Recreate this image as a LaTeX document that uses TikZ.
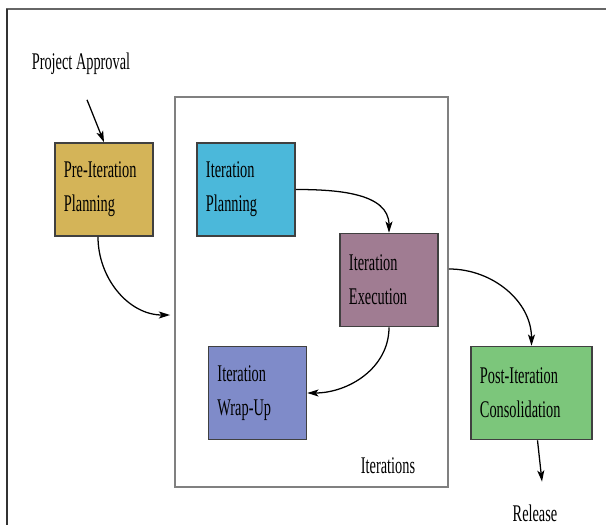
\documentclass[tikz,border=0pt]{standalone}
\usepackage{fontspec}
\setmainfont{Liberation Serif}[FakeStretch=0.6]
\usetikzlibrary{arrows.meta}

\definecolor{preplan}{RGB}{212,180,88}
\definecolor{iterplan}{RGB}{75,184,218}
\definecolor{iterexec}{RGB}{160,124,146}
\definecolor{iterwrap}{RGB}{127,139,201}
\definecolor{postcons}{RGB}{124,198,123}

\begin{document}
\begin{tikzpicture}[x=0.025cm, y=-0.025cm,
	phase/.style={draw=black!75, line width=1.1pt, minimum height=2.325cm,
		text width=2cm, inner xsep=0.225cm, align=left,
		font=\fontsize{17}{24}\selectfont},
	flow/.style={-{Stealth[length=8pt,width=5pt,inset=2pt]}, line width=0.9pt},
	schrift/.style={font=\fontsize{17}{24}\selectfont}]
	\useasboundingbox (0,0) rectangle (606,525);
	% Rahmen
	\draw[gray!80!black, line width=2pt] (6,9) -- (606,9);
	\draw[black!80, line width=0.8pt] (7,9) -- (7,525);

	% Iterationen
	\node[draw=gray, line width=1.3pt, minimum width=6.825cm,
	minimum height=9.75cm] (iter) at (311.5,292) {};
	\node[schrift] (iterlabel) at (388,466) {Iterations};

	% Phasen
	\node[schrift] (approval) at (81,64) {Project Approval};
	\node[phase, fill=preplan] (pre) at (104,189.5) {Pre-Iteration\\Planning};
	\node[phase, fill=iterplan] (plan) at (246,189.5) {Iteration\\Planning};
	\node[phase, fill=iterexec] (exec) at (389,280) {Iteration\\Execution};
	\node[phase, fill=iterwrap] (wrap) at (257.5,393) {Iteration\\Wrap-Up};
	\node[phase, fill=postcons, text width=2.575cm] (post) at (531.5,393)
	{Post-Iteration\\Consolidation};
	\node[schrift] (release) at (535,513) {Release};

	% Pfeile
	\draw[flow] ([xshift=0.15cm, yshift=-0.5cm]approval.south) -- (pre.north);
	\draw[flow] ([xshift=-0.15cm]pre.south) to[out=-90, in=180]
	([xshift=-0.1cm, yshift=-0.575cm]iter.west);
	\draw[flow] (plan.east) to[out=0, in=90] (exec.north);
	\draw[flow] (exec.south) to[out=-90, in=0] (wrap.east);
	\draw[flow] ([yshift=0.575cm]iter.east) to[out=0, in=90] (post.north);
	\draw[flow] ([xshift=0.15cm]post.south) -- ([xshift=0.175cm, yshift=0.45cm]release.north);
\end{tikzpicture}
\end{document}
